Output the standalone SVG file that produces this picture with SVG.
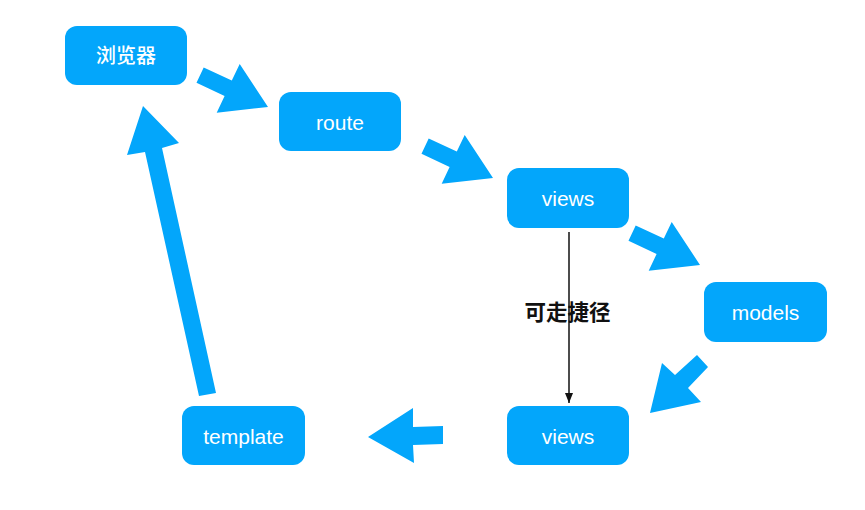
<svg xmlns="http://www.w3.org/2000/svg" width="865" height="510" viewBox="0 0 865 510">
<style>
.box{fill:#03a6fb;}
.lbl{fill:#ffffff;font-family:"Liberation Sans",Arial,sans-serif;font-size:21px;text-anchor:middle;}
.cjk{fill:#ffffff;font-family:"Noto Sans CJK SC","Noto Sans",sans-serif;font-size:20px;font-weight:500;text-anchor:middle;}
.blk{fill:#03a6fb;}
.thin{stroke:#111111;stroke-width:1.5;fill:none;}
.note{fill:#111111;font-family:"Noto Sans CJK SC","Noto Sans",sans-serif;font-size:21.5px;font-weight:bold;text-anchor:middle;}
</style>
<defs>
<marker id="ah" markerUnits="userSpaceOnUse" markerWidth="10" markerHeight="8" refX="10" refY="4" orient="auto" viewBox="0 0 10 8">
<path d="M0,0 L10,4 L0,8 Z" fill="#111111"/>
</marker>
</defs>
<rect width="865" height="510" fill="#ffffff"/>
<g id="connectors">
<polygon class="blk" points="203.7,67.4 231.8,80.6 239.7,63.9 268,107 216.7,112.7 224.6,96 196.5,82.8"/>
<polygon class="blk" points="428.7,138.4 456.8,151.6 464.7,134.9 493,178 441.7,183.7 449.6,167 421.5,153.8"/>
<polygon class="blk" points="635.7,225.4 663.8,238.6 671.7,221.9 700,265 648.7,270.7 656.6,254 628.5,240.8"/>
<polygon class="blk" points="697,355 675,375 662,363 650,413 701,402 688,388 708,367"/>
<polygon class="blk" points="443,426 413,427 413,408 368,437 414,463 413,445 443,444"/>
<polygon class="blk" points="143,106 179,143 162,148 216,393 199,396 145,152 127,155"/>
<line class="thin" x1="569" y1="232" x2="569" y2="403" marker-end="url(#ah)"/>
<text class="note" x="567.5" y="320">可走捷径</text>
</g>
<g id="node-browser">
<rect class="box" x="65" y="26" width="122" height="59" rx="12"/>
<text class="cjk" x="126" y="63">浏览器</text>
</g>
<g id="node-route">
<rect class="box" x="279" y="92" width="122" height="59" rx="12"/>
<text class="lbl" x="340" y="130">route</text>
</g>
<g id="node-views-top">
<rect class="box" x="507" y="168" width="122" height="60" rx="12"/>
<text class="lbl" x="568" y="206">views</text>
</g>
<g id="node-models">
<rect class="box" x="704" y="282" width="123" height="60" rx="12"/>
<text class="lbl" x="765.5" y="320">models</text>
</g>
<g id="node-views-bottom">
<rect class="box" x="507" y="406" width="122" height="59" rx="12"/>
<text class="lbl" x="568" y="444">views</text>
</g>
<g id="node-template">
<rect class="box" x="182" y="406" width="123" height="59" rx="12"/>
<text class="lbl" x="243.5" y="444">template</text>
</g>
</svg>
